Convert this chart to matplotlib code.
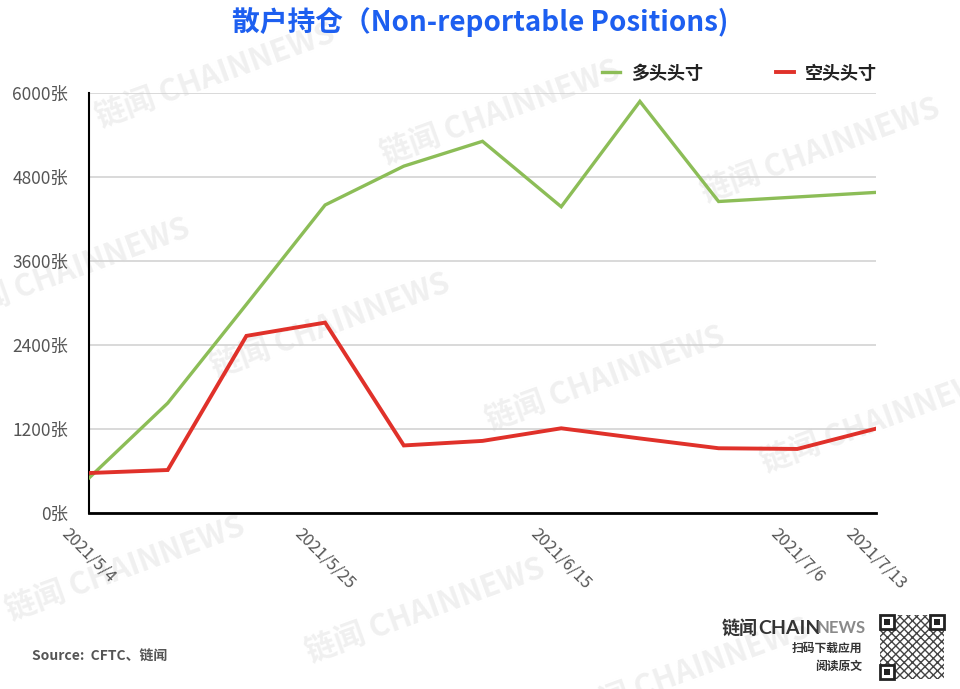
import matplotlib
matplotlib.use("Agg")
import matplotlib.pyplot as plt
from matplotlib.patches import Rectangle
import numpy as np

plt.rcParams['font.family'] = ['Noto Sans CJK SC', 'DejaVu Sans']

dates = ["2021/5/4", "2021/5/11", "2021/5/18", "2021/5/25", "2021/6/1", "2021/6/8",
         "2021/6/15", "2021/6/22", "2021/6/29", "2021/7/6", "2021/7/13"]
long_pos = [500, 1570, 2980, 4400, 4955, 5310, 4375, 5880, 4450, 4515, 4580]
short_pos = [571, 614, 2530, 2720, 965, 1030, 1210, 1065, 925, 915, 1205]
shown_ticks = ["2021/5/4", "2021/5/25", "2021/6/15", "2021/7/6", "2021/7/13"]
y_ticks = [0, 1200, 2400, 3600, 4800, 6000]
series_names = ["多头头寸", "空头头寸"]

GREEN = "#8cbd57"
RED = "#e0312a"
TICK_GRAY = "#555555"

fig = plt.figure(figsize=(9.6, 6.89), dpi=100)
fig.patch.set_facecolor("white")

# watermarks (drawn in a background axes)
bg = fig.add_axes([0, 0, 1, 1], zorder=-5)
bg.set_axis_off()
bg.set_xlim(0, 960)
bg.set_ylim(689, 0)
wm_pos = [(215, 75), (500, 112), (820, 150), (70, 270), (330, 325), (605, 378),
          (880, 420), (125, 568), (425, 610), (690, 670)]
for (px, py) in wm_pos:
    bg.text(px, py, "链闻 CHAINNEWS", fontsize=22, fontweight="bold",
            color="#f0f0f0", rotation=20, ha="center", va="center", clip_on=True)

ax = fig.add_axes([89 / 960, 1 - 513 / 689, (876 - 89) / 960, (513 - 93) / 689], zorder=1)
ax.set_facecolor("none")
x = np.arange(len(dates))
ax.plot(x, long_pos, color=GREEN, lw=2.4, label=series_names[0], solid_joinstyle="miter", zorder=3)
ax.plot(x, short_pos, color=RED, lw=2.8, label=series_names[1], solid_joinstyle="miter", zorder=3)

ax.set_xlim(0, len(dates) - 1)
ax.set_ylim(0, 6000)
ax.set_yticks(y_ticks)
ax.set_yticklabels([f"{v}张" for v in y_ticks], fontsize=12.5, color=TICK_GRAY)
tick_idx = [dates.index(d) for d in shown_ticks]
ax.set_xticks(tick_idx)
ax.set_xticklabels(shown_ticks, fontsize=12, color=TICK_GRAY, rotation=-45, ha="center", va="top")
ax.tick_params(axis="both", length=0)
ax.tick_params(axis="y", pad=15)
ax.tick_params(axis="x", pad=9)
ax.grid(axis="y", color="#d3d3d3", lw=1.2)
ax.set_axisbelow(True)
for s in ["top", "right"]:
    ax.spines[s].set_visible(False)
ax.spines["left"].set_color("black")
ax.spines["left"].set_linewidth(1.5)
ax.spines["bottom"].set_color("black")
ax.spines["bottom"].set_linewidth(2)
ax.spines["bottom"].set_zorder(4)

leg = ax.legend(loc="center right", bbox_to_anchor=(893 / 960, 1 - 73 / 689),
                bbox_transform=fig.transFigure, ncol=2, frameon=False,
                handlelength=1.0, handletextpad=0.6, columnspacing=4.05,
                prop={"size": 13, "weight": "bold"})
for t in leg.get_texts():
    t.set_color("#222222")

fig.text(0.5, 1 - 22 / 689, "散户持仓（Non-reportable Positions)", ha="center", va="center",
         fontsize=20, fontweight="bold", color="#1d5ff0")

fig.text(32 / 960, 1 - 657 / 689, "Source:  CFTC、链闻", ha="left", va="center",
         fontsize=10, fontweight="bold", color="#555555")

# brand block
fig.text(722 / 960, 1 - 628 / 689, "链闻", ha="left", va="center",
         fontsize=13, fontweight="bold", color="#333333")
fig.text(758 / 960, 1 - 628 / 689, "CHAIN", ha="left", va="center",
         fontsize=14, fontweight="bold", color="#333333", family=["Lato", "DejaVu Sans"])
fig.text(817 / 960, 1 - 628 / 689, "NEWS", ha="left", va="center",
         fontsize=12, fontweight="bold", color="#8a8a8a", family=["Lato", "DejaVu Sans"])
fig.text(862 / 960, 1 - 648 / 689, "扫码下载应用", ha="right", va="center",
         fontsize=8.5, fontweight="bold", color="#333333")
fig.text(862 / 960, 1 - 666 / 689, "阅读原文", ha="right", va="center",
         fontsize=8.5, fontweight="bold", color="#333333")

# QR-like badge
qx0, qy0, qs = 880, 615, 64
def fr(px, py, w, h, **kw):
    fig.add_artist(Rectangle((px / 960, 1 - (py + h) / 689), w / 960, h / 689,
                             transform=fig.transFigure, **kw))
fr(qx0, qy0, qs, qs, facecolor="white", edgecolor="#444444", hatch="xxxx", lw=0)
for (fx, fy) in [(qx0, qy0), (qx0 + qs - 14, qy0), (qx0, qy0 + qs - 14)]:
    fr(fx, fy, 14, 14, facecolor="white", edgecolor="#222222", lw=2)
    fr(fx + 4, fy + 4, 6, 6, facecolor="#222222", edgecolor="none")

fig.savefig("out.png", dpi=100, facecolor="white")
